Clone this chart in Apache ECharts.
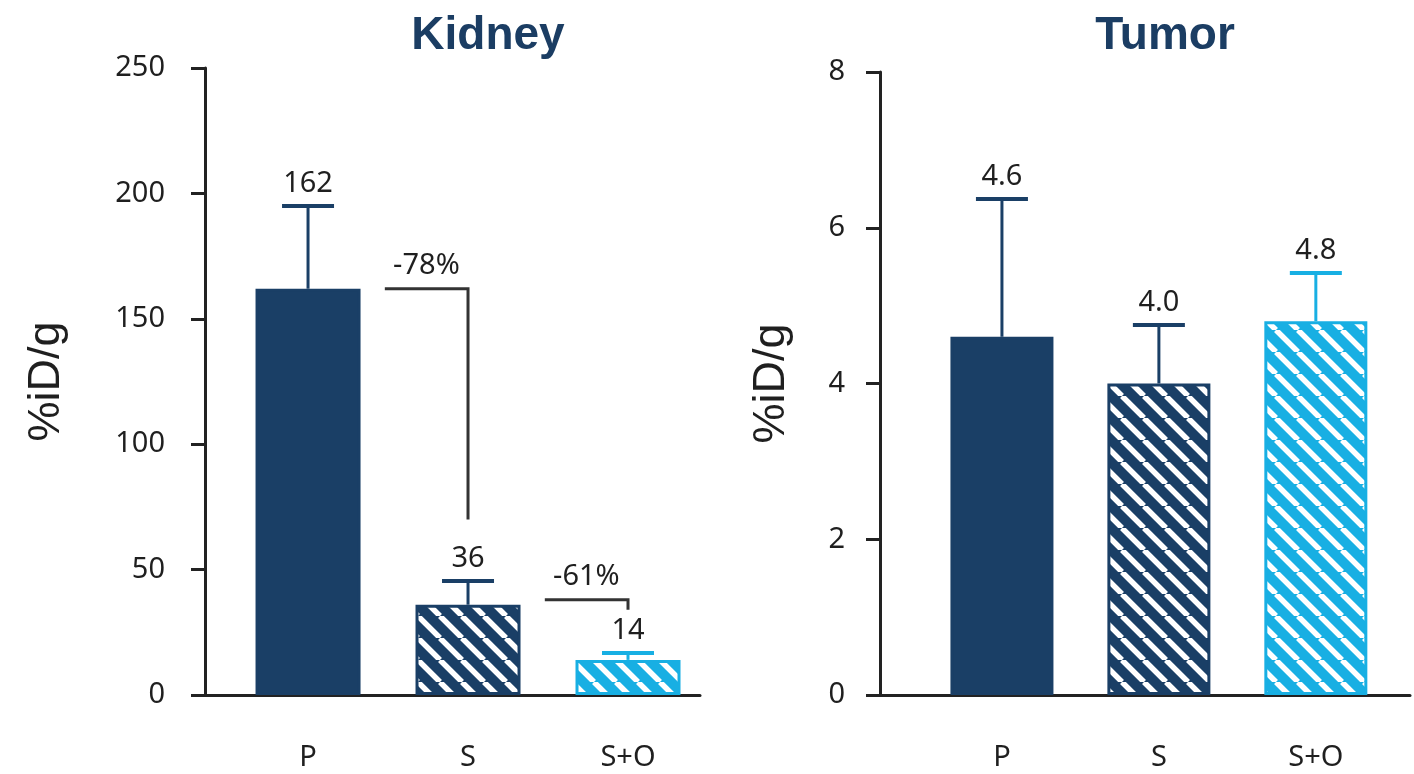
<!DOCTYPE html>
<html>
<head>
<meta charset="utf-8">
<title>Kidney and Tumor uptake</title>
<script src="https://cdn.jsdelivr.net/npm/echarts@6/dist/echarts.min.js"></script>
<style>
  html, body { margin: 0; padding: 0; background: #ffffff; }
  #chart { width: 1414px; height: 774px; }
</style>
</head>
<body>
<div id="chart"></div>
<script>
// Groups shown on both panels
const categories = ['P', 'S', 'S+O'];

// Kidney uptake (%iD/g): mean and top of the error bar
const kidneyMean = [162, 36, 14];
const kidneyUpper = [195, 45.5, 16.7];
const kidneyTicks = [0, 50, 100, 150, 200, 250];

// Tumor uptake (%iD/g): mean and top of the error bar
const tumorMean = [4.6, 4.0, 4.8];
const tumorUpper = [6.37, 4.75, 5.42];
const tumorTicks = [0, 2, 4, 6, 8];

// Reduction brackets on the kidney panel: from group, to group, bracket level, drop end, text
const bracketFrom = [0, 1];
const bracketTo = [1, 2];
const bracketLevel = [162, 38];
const bracketDrop = [70, 34];
const bracketText = ['-78%', '-61%'];

const NAVY = '#1a3f66';
const SKY = '#18afe3';
const INK = '#1f1f1f';
const LABEL_FONT = '"Noto Sans", "Open Sans", sans-serif';
const TITLE_FONT = '"Liberation Sans", Arial, sans-serif';

// Diagonal white hatching on a coloured ground
function hatch(bg) {
  const s = 22;
  const c = document.createElement('canvas');
  c.width = s; c.height = s;
  const g = c.getContext('2d');
  g.fillStyle = bg;
  g.fillRect(0, 0, s, s);
  g.strokeStyle = '#ffffff';
  g.lineWidth = 5.5;
  g.beginPath();
  for (const k of [-s, 0, s]) {
    g.moveTo(k, 0);
    g.lineTo(k + s, s);
  }
  g.stroke();
  return { image: c, repeat: 'repeat' };
}

const barFills = [NAVY, hatch(NAVY), hatch(SKY)];
const barEdges = [NAVY, NAVY, SKY];

function barData(means) {
  return means.map((v, i) => ({
    value: [i, v],
    itemStyle: { color: barFills[i], borderColor: barEdges[i], borderWidth: 3 }
  }));
}

function errData(means, uppers) {
  return means.map((v, i) => [i, v, uppers[i]]);
}

// Error bar with cap and the mean written above it
function errorRenderer(means, digits) {
  return function (params, api) {
    const i = params.dataIndex;
    const x = api.value(0);
    const lo = api.coord([x, api.value(1)]);
    const hi = api.coord([x, api.value(2)]);
    const col = barEdges[i];
    const half = 26;
    return {
      type: 'group',
      children: [
        { type: 'line', shape: { x1: lo[0], y1: lo[1], x2: hi[0], y2: hi[1] },
          style: { stroke: col, lineWidth: 3 } },
        { type: 'line', shape: { x1: hi[0] - half, y1: hi[1], x2: hi[0] + half, y2: hi[1] },
          style: { stroke: col, lineWidth: 4 } },
        { type: 'text', x: hi[0], y: hi[1] - 8,
          style: { text: means[i].toFixed(digits), fill: INK, font: '29px ' + LABEL_FONT,
                   textAlign: 'center', textVerticalAlign: 'bottom' } }
      ]
    };
  };
}

function renderBracket(params, api) {
  const i = params.dataIndex;
  const start = api.coord([bracketFrom[i] + 0.48, bracketLevel[i]]);
  const corner = api.coord([bracketTo[i], bracketLevel[i]]);
  const end = api.coord([bracketTo[i], bracketDrop[i]]);
  return {
    type: 'group',
    children: [
      { type: 'polyline', shape: { points: [start, corner, end] },
        style: { stroke: '#333333', lineWidth: 3, fill: null } },
      { type: 'text', x: (start[0] + corner[0]) / 2, y: start[1] - 8,
        style: { text: bracketText[i], fill: INK, font: '29px ' + LABEL_FONT,
                 textAlign: 'center', textVerticalAlign: 'bottom' } }
    ]
  };
}

function xAxisFor(gridIndex, min, max) {
  return {
    type: 'value', gridIndex, min, max,
    axisLine: { show: true, onZero: false, lineStyle: { color: '#222222', width: 3 } },
    axisTick: { show: false },
    splitLine: { show: false },
    axisLabel: {
      customValues: [0, 1, 2],
      formatter: v => categories[Math.round(v)] || '',
      margin: 48, fontSize: 29, color: INK, fontFamily: LABEL_FONT
    }
  };
}

function yAxisFor(gridIndex, ticks, nameGap, labelMargin) {
  return {
    type: 'value', gridIndex,
    min: ticks[0], max: ticks[ticks.length - 1], interval: ticks[1] - ticks[0],
    name: '%iD/g', nameLocation: 'middle', nameGap,
    nameTextStyle: { fontSize: 45, color: INK, fontFamily: TITLE_FONT },
    axisLine: { show: true, onZero: false, lineStyle: { color: '#222222', width: 3 } },
    axisTick: { show: true, inside: false, length: 14, lineStyle: { color: '#222222', width: 3 } },
    splitLine: { show: false },
    axisLabel: { margin: labelMargin, fontSize: 29, color: INK, fontFamily: LABEL_FONT }
  };
}

const chart = echarts.init(document.getElementById('chart'), null, { renderer: 'canvas' });

chart.setOption({
  animation: false,
  backgroundColor: '#ffffff',
  title: [
    { text: 'Kidney', left: 483, top: 8, textAlign: 'center',
      textStyle: { fontSize: 46, fontWeight: 'bold', color: '#1b3d63', fontFamily: TITLE_FONT } },
    { text: 'Tumor', left: 1160, top: 8, textAlign: 'center',
      textStyle: { fontSize: 46, fontWeight: 'bold', color: '#1b3d63', fontFamily: TITLE_FONT } }
  ],
  grid: [
    { left: 205, top: 68, width: 495, bottom: 79 },
    { left: 880, top: 72, width: 530, bottom: 79 }
  ],
  xAxis: [xAxisFor(0, -0.644, 2.45), xAxisFor(1, -0.777, 2.6)],
  yAxis: [yAxisFor(0, kidneyTicks, 136, 40), yAxisFor(1, tumorTicks, 86, 35)],
  series: [
    { type: 'bar', xAxisIndex: 0, yAxisIndex: 0, barWidth: 105, data: barData(kidneyMean) },
    { type: 'custom', xAxisIndex: 0, yAxisIndex: 0, renderItem: errorRenderer(kidneyMean, 0), z: 3,
      encode: { x: 0, y: [1, 2] }, data: errData(kidneyMean, kidneyUpper) },
    { type: 'custom', xAxisIndex: 0, yAxisIndex: 0, renderItem: renderBracket, z: 3,
      encode: { x: 0, y: 1 }, data: bracketText.map((t, i) => [bracketTo[i], bracketLevel[i]]) },
    { type: 'bar', xAxisIndex: 1, yAxisIndex: 1, barWidth: 103, data: barData(tumorMean) },
    { type: 'custom', xAxisIndex: 1, yAxisIndex: 1, renderItem: errorRenderer(tumorMean, 1), z: 3,
      encode: { x: 0, y: [1, 2] }, data: errData(tumorMean, tumorUpper) }
  ]
});
</script>
</body>
</html>
